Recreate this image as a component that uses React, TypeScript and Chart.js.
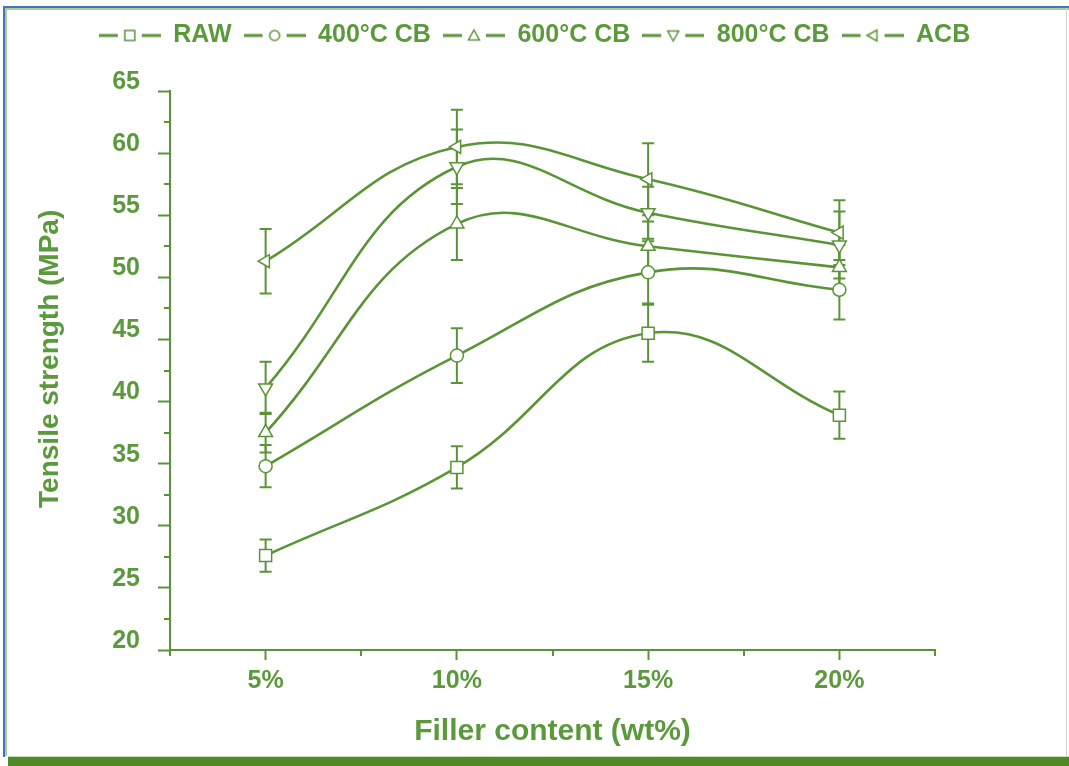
import React, { useEffect, useRef } from 'react';
import { Chart, registerables } from 'chart.js';

Chart.register(...registerables);

// ---------- data ----------
const categories = [5, 10, 15, 20];
const xTickLabels = ['5%', '10%', '15%', '20%'];
const yTickValues = [20, 25, 30, 35, 40, 45, 50, 55, 60, 65];
const seriesNames = ['RAW', '400°C CB', '600°C CB', '800°C CB', 'ACB'];

const rawValues = [27.6, 34.7, 45.5, 38.9];
const rawErrors = [1.3, 1.7, 2.3, 1.9];
const cb400Values = [34.8, 43.7, 50.4, 49.0];
const cb400Errors = [1.7, 2.2, 2.5, 2.4];
const cb600Values = [37.5, 54.3, 52.5, 50.8];
const cb600Errors = [1.6, 2.9, 2.0, 1.8];
const cb800Values = [41.1, 58.9, 55.2, 52.6];
const cb800Errors = [2.1, 3.0, 2.1, 2.7];
const acbValues = [51.3, 60.5, 57.9, 53.6];
const acbErrors = [2.6, 3.0, 2.9, 2.6];

const allValues = [rawValues, cb400Values, cb600Values, cb800Values, acbValues];
const allErrors = [rawErrors, cb400Errors, cb600Errors, cb800Errors, acbErrors];

// ---------- styles ----------
const TEXT = '#5b9a3c';
const LINE = '#5a9436';
const FONT = '"Liberation Sans", Arial, sans-serif';

const markerStyles: { style: string; rotation: number; radius: number }[] = [
  { style: 'rect', rotation: 0, radius: 8.5 },
  { style: 'circle', rotation: 0, radius: 6.5 },
  { style: 'triangle', rotation: 0, radius: 8 },
  { style: 'triangle', rotation: 180, radius: 8 },
  { style: 'triangle', rotation: 270, radius: 7.5 },
];

function makeLegendSymbol(idx: number): HTMLCanvasElement {
  const c = document.createElement('canvas');
  c.width = 62;
  c.height = 18;
  const g = c.getContext('2d')!;
  const cy = 9;
  const cx = 31;
  g.strokeStyle = LINE;
  g.lineWidth = 3;
  g.beginPath();
  g.moveTo(0, cy);
  g.lineTo(19, cy);
  g.moveTo(43, cy);
  g.lineTo(62, cy);
  g.stroke();
  g.lineWidth = 1.5;
  g.fillStyle = '#ffffff';
  g.beginPath();
  const r = 5.5;
  if (idx === 0) {
    g.rect(cx - 5, cy - 5, 10, 10);
  } else if (idx === 1) {
    g.arc(cx, cy, 5, 0, Math.PI * 2);
  } else if (idx === 2) {
    g.moveTo(cx, cy - r);
    g.lineTo(cx + r, cy + r * 0.8);
    g.lineTo(cx - r, cy + r * 0.8);
    g.closePath();
  } else if (idx === 3) {
    g.moveTo(cx, cy + r);
    g.lineTo(cx + r, cy - r * 0.8);
    g.lineTo(cx - r, cy - r * 0.8);
    g.closePath();
  } else {
    g.moveTo(cx - r, cy);
    g.lineTo(cx + r * 0.8, cy - r);
    g.lineTo(cx + r * 0.8, cy + r);
    g.closePath();
  }
  g.fill();
  g.stroke();
  return c;
}

const errorBarPlugin = {
  id: 'errorBars',
  beforeDatasetsDraw(chart: any) {
    const ctx = chart.ctx;
    const xs = chart.scales.x;
    const ys = chart.scales.y;
    ctx.save();
    ctx.strokeStyle = LINE;
    ctx.lineWidth = 2;
    allErrors.forEach((errs, di) => {
      const vals = allValues[di];
      categories.forEach((c, i) => {
        const px = xs.getPixelForValue(c);
        const top = ys.getPixelForValue(vals[i] + errs[i]);
        const bot = ys.getPixelForValue(vals[i] - errs[i]);
        ctx.beginPath();
        ctx.moveTo(px, top);
        ctx.lineTo(px, bot);
        ctx.moveTo(px - 6, top);
        ctx.lineTo(px + 6, top);
        ctx.moveTo(px - 6, bot);
        ctx.lineTo(px + 6, bot);
        ctx.stroke();
      });
    });
    ctx.restore();
  },
};

const minorTickPlugin = {
  id: 'minorTicks',
  afterDraw(chart: any) {
    const ctx = chart.ctx;
    const xs = chart.scales.x;
    const ys = chart.scales.y;
    const area = chart.chartArea;
    ctx.save();
    ctx.strokeStyle = LINE;
    ctx.lineWidth = 2;
    const xt = xs.ticks.map((t: any) => t.value);
    const xMinor = [xs.min];
    for (let i = 0; i < xt.length - 1; i++) xMinor.push((xt[i] + xt[i + 1]) / 2);
    xMinor.push(xs.max);
    xMinor.forEach((v: number) => {
      const px = Math.round(xs.getPixelForValue(v));
      ctx.beginPath();
      ctx.moveTo(px, area.bottom);
      ctx.lineTo(px, area.bottom + 6);
      ctx.stroke();
    });
    const yt = ys.ticks.map((t: any) => t.value);
    for (let i = 0; i < yt.length - 1; i++) {
      const py = Math.round(ys.getPixelForValue((yt[i] + yt[i + 1]) / 2));
      ctx.beginPath();
      ctx.moveTo(area.left, py);
      ctx.lineTo(area.left - 6, py);
      ctx.stroke();
    }
    ctx.restore();
  },
};

// place the legend band at the top of the whole canvas
const legendPlacePlugin = {
  id: 'legendPlace',
  afterLayout(chart: any) {
    const lg = chart.legend;
    if (!lg) return;
    const h = lg.height;
    lg.top = 11;
    lg.bottom = 11 + h;
    lg.left = 0;
    lg.right = chart.width;
    lg.width = chart.width;
  },
};

export default function App() {
  const canvasRef = useRef<HTMLCanvasElement | null>(null);

  useEffect(() => {
    if (!canvasRef.current) return;
    const symbols = seriesNames.map((_, i) => makeLegendSymbol(i));
    const datasets = seriesNames.map((name, di) => ({
      label: name,
      data: categories.map((c, i) => ({ x: c, y: allValues[di][i] })),
      borderColor: LINE,
      backgroundColor: '#ffffff',
      borderWidth: 2.6,
      tension: 0.42,
      fill: false,
      pointStyle: markerStyles[di].style,
      rotation: markerStyles[di].rotation,
      pointRadius: markerStyles[di].radius,
      pointHoverRadius: markerStyles[di].radius,
      pointBackgroundColor: '#ffffff',
      pointBorderColor: LINE,
      pointBorderWidth: 1.5,
    }));

    const chart = new Chart(canvasRef.current, {
      type: 'line',
      data: { datasets: datasets as any },
      options: {
        animation: false,
        responsive: false,
        devicePixelRatio: 1,
        events: [],
        layout: { padding: { top: 10, right: 134, left: 0, bottom: 0 } },
        plugins: {
          legend: {
            position: 'top',
            labels: {
              usePointStyle: true,
              pointStyleWidth: 62,
              padding: 12,
              color: TEXT,
              font: { family: FONT, size: 25, weight: 'bold' },
              generateLabels: (ch: any) =>
                ch.data.datasets.map((ds: any, i: number) => ({
                  text: ds.label,
                  pointStyle: symbols[i],
                  fontColor: TEXT,
                  datasetIndex: i,
                  hidden: false,
                  lineWidth: 0,
                  strokeStyle: 'rgba(0,0,0,0)',
                  fillStyle: 'rgba(0,0,0,0)',
                })),
            },
          },
          tooltip: { enabled: false },
        },
        scales: {
          x: {
            type: 'linear',
            min: 2.5,
            max: 22.5,
            afterBuildTicks: (s: any) => {
              s.ticks = categories.map((v) => ({ value: v }));
            },
            afterFit: (s: any) => {
              s.height = 116;
            },
            grid: {
              drawOnChartArea: false,
              drawTicks: true,
              tickLength: 10,
              tickColor: LINE,
              tickWidth: 2,
            },
            border: { display: true, color: LINE, width: 2 },
            ticks: {
              color: TEXT,
              font: { family: FONT, size: 25, weight: 'bold' },
              padding: 6,
              maxRotation: 0,
              autoSkip: false,
              callback: (v: any) => {
                const idx = categories.indexOf(Number(v));
                return idx >= 0 ? xTickLabels[idx] : '';
              },
            },
            title: {
              display: true,
              text: 'Filler content (wt%)',
              color: TEXT,
              font: { family: FONT, size: 30, weight: 'bold' },
              padding: { top: 0, bottom: 16 },
            },
          },
          y: {
            type: 'linear',
            min: 20,
            max: 65,
            afterBuildTicks: (s: any) => {
              s.ticks = yTickValues.map((v) => ({ value: v }));
            },
            afterFit: (s: any) => {
              s.width = 170;
              s.paddingTop = 91;
            },
            grid: {
              drawOnChartArea: false,
              drawTicks: true,
              tickLength: 12,
              tickColor: LINE,
              tickWidth: 2,
            },
            border: { display: true, color: LINE, width: 2 },
            ticks: {
              color: TEXT,
              font: { family: FONT, size: 25, weight: 'bold' },
              padding: 18,
              labelOffset: -9,
              autoSkip: false,
            },
            title: {
              display: true,
              text: '\u00A0\u00A0\u00A0Tensile strength (MPa)',
              color: TEXT,
              font: { family: FONT, size: 28, weight: 'bold' },
              padding: { top: 33, bottom: 0 },
            },
          },
        },
      } as any,
      plugins: [errorBarPlugin, minorTickPlugin, legendPlacePlugin],
    });
    return () => chart.destroy();
  }, []);

  const line = (s: React.CSSProperties) => (
    <div style={{ position: 'absolute', ...s }} />
  );

  return (
    <div
      style={{
        position: 'absolute',
        left: 0,
        top: 0,
        width: 1069,
        height: 766,
        background: '#ffffff',
        overflow: 'hidden',
      }}
    >
      <canvas
        ref={canvasRef}
        width={1069}
        height={766}
        style={{ position: 'absolute', left: 0, top: 0, width: 1069, height: 766 }}
      />
      {line({ left: 3, top: 6, width: 1066, height: 2, background: '#4472c4' })}
      {line({ left: 5, top: 8, width: 1064, height: 2, background: '#a9d18e' })}
      {line({ left: 3, top: 6, width: 2, height: 751, background: '#4472c4' })}
      {line({ left: 5, top: 8, width: 2, height: 748, background: '#a9d18e' })}
      {line({ left: 1066, top: 8, width: 1, height: 749, background: '#d4d4d4' })}
      {line({ left: 8, top: 756, width: 1061, height: 1, background: '#c9dcb8' })}
      {line({ left: 8, top: 757, width: 1061, height: 9, background: '#4e8a25' })}
    </div>
  );
}
